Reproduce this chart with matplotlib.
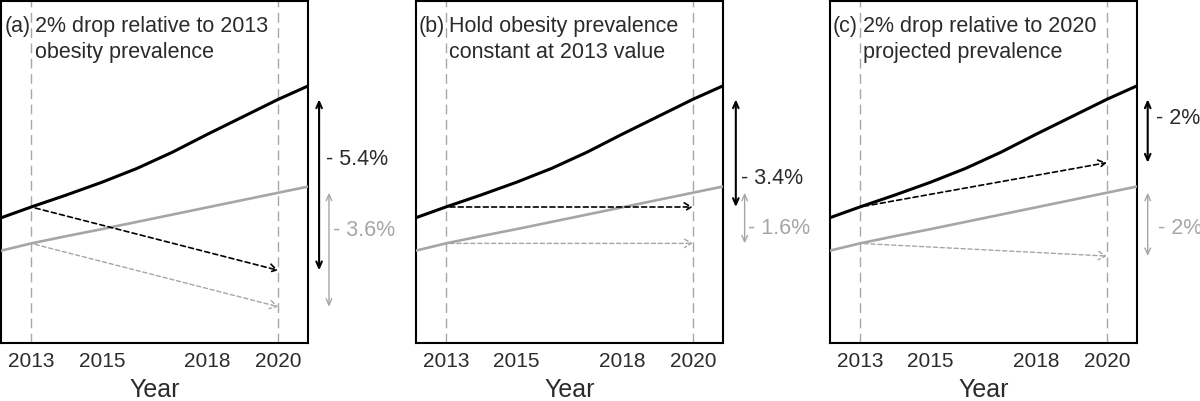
import matplotlib
matplotlib.use("Agg")
import matplotlib.pyplot as plt

plt.rcParams["font.family"] = ["Liberation Sans", "DejaVu Sans"]

# projected prevalence (%) by year
YEARS = [2012, 2013, 2014, 2015, 2016, 2017, 2018, 2019, 2020, 2021]
BLACK = [23.9, 24.3, 24.68, 25.08, 25.52, 26.03, 26.6, 27.15, 27.7, 28.2]
GRAY = [22.88, 23.15, 23.38, 23.6, 23.83, 24.06, 24.29, 24.52, 24.75, 24.98]

TICK_YEARS = [2013, 2015, 2018, 2020]
START_YEAR = 2013
END_YEAR = 2020

PANEL_TAGS = ["(a)", "(b)", "(c)"]
PANEL_TITLES = ["2% drop relative to 2013\nobesity prevalence",
                "Hold obesity prevalence\nconstant at 2013 value",
                "2% drop relative to 2020\nprojected prevalence"]
BLACK_TARGET = [22.3, 24.3, 25.7]
GRAY_TARGET = [21.15, 23.15, 22.75]
BLACK_LABELS = ["- 5.4%", "- 3.4%", "- 2%"]
GRAY_LABELS = ["- 3.6%", "- 1.6%", "- 2%"]

# layout of side arrows / labels (x in years, y in %)
BLACK_ARROW_X = [2021.16, 2021.22, 2021.16]
GRAY_ARROW_X = [2021.44, 2021.47, 2021.16]
BLACK_LABEL_XY = [(2021.36, 25.84), (2021.36, 25.24), (2021.39, 27.13)]
GRAY_LABEL_XY = [(2021.56, 23.6), (2021.56, 23.66), (2021.45, 23.66)]

C_BLACK = "black"
C_GRAY = "#a6a6a6"
C_TEXT = "#2b2b2b"

fig = plt.figure(figsize=(12, 4.02), dpi=100)
lefts = [0.001, 0.3465, 0.6915]

v13_b = BLACK[YEARS.index(START_YEAR)]
v20_b = BLACK[YEARS.index(END_YEAR)]
v13_g = GRAY[YEARS.index(START_YEAR)]
v20_g = GRAY[YEARS.index(END_YEAR)]

for i, left in enumerate(lefts):
    ax = fig.add_axes([left, 0.144, 0.2558, 0.852])
    ax.set_xlim(2012.15, 2020.85)
    ax.set_ylim(20, 30.82)

    for yr in (START_YEAR, END_YEAR):
        ax.axvline(yr, color="#a8a8a8", lw=1.0, dashes=(7, 4), zorder=1)

    ax.plot(YEARS, GRAY, color=C_GRAY, lw=1.9, zorder=3)
    ax.plot(YEARS, BLACK, color=C_BLACK, lw=2.2, zorder=4)

    # dashed projections from 2013 to the 2020 target
    ax.annotate("", xy=(END_YEAR, BLACK_TARGET[i]), xytext=(START_YEAR, v13_b),
                arrowprops=dict(arrowstyle="->,head_length=0.5,head_width=0.3",
                                color=C_BLACK, lw=1.2, linestyle=(0, (3, 2)),
                                shrinkA=3, shrinkB=0), zorder=5)
    ax.annotate("", xy=(END_YEAR, GRAY_TARGET[i]), xytext=(START_YEAR, v13_g),
                arrowprops=dict(arrowstyle="->,head_length=0.5,head_width=0.3",
                                color=C_GRAY, lw=1.0, linestyle=(0, (3, 2)),
                                shrinkA=3, shrinkB=0), zorder=5)

    # side arrows showing the required reduction
    ax.annotate("", xy=(BLACK_ARROW_X[i], BLACK_TARGET[i]), xytext=(BLACK_ARROW_X[i], v20_b),
                xycoords="data", annotation_clip=False,
                arrowprops=dict(arrowstyle="<->,head_length=0.45,head_width=0.2",
                                color=C_BLACK, lw=1.5, shrinkA=0, shrinkB=0))
    ax.annotate("", xy=(GRAY_ARROW_X[i], GRAY_TARGET[i]), xytext=(GRAY_ARROW_X[i], v20_g),
                xycoords="data", annotation_clip=False,
                arrowprops=dict(arrowstyle="<->,head_length=0.45,head_width=0.2",
                                color=C_GRAY, lw=1.0, shrinkA=0, shrinkB=0))
    ax.text(*BLACK_LABEL_XY[i], BLACK_LABELS[i], color=C_TEXT, fontsize=15.5,
            ha="left", va="center", clip_on=False)
    ax.text(*GRAY_LABEL_XY[i], GRAY_LABELS[i], color=C_GRAY, fontsize=15.5,
            ha="left", va="center", clip_on=False)

    ax.text(0.01, 0.958, PANEL_TAGS[i], transform=ax.transAxes, fontsize=15.5,
            color=C_TEXT, ha="left", va="top")
    ax.text(START_YEAR + 0.1, 30.82 - 0.45, PANEL_TITLES[i], fontsize=15.5,
            color=C_TEXT, ha="left", va="top", linespacing=1.35)

    ax.set_xticks(TICK_YEARS)
    ax.set_xticklabels([str(t) for t in TICK_YEARS], fontsize=15, color=C_TEXT)
    ax.tick_params(axis="x", length=0, pad=6)
    ax.set_yticks([])
    ax.set_xlabel("Year", fontsize=18, color=C_TEXT, labelpad=5)
    for sp in ax.spines.values():
        sp.set_linewidth(1.5)
        sp.set_color("black")

fig.savefig("out.png", dpi=100)
